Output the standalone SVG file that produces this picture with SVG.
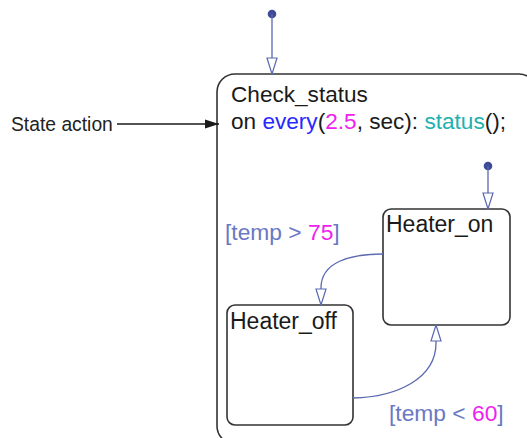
<svg xmlns="http://www.w3.org/2000/svg" width="527" height="438" viewBox="0 0 527 438">
<style>
  text { font-family: "Liberation Sans", Arial, sans-serif; }
  .state { fill: #ffffff; stroke: #333333; stroke-width: 1.6; }
  .name { font-size: 23px; fill: #1a1a1a; }
  .outer { font-size: 22.6px; fill: #1a1a1a; }
  .trans { fill: none; stroke: #5a68b0; stroke-width: 1.3; }
  .dot { fill: #3f4a96; }
  .label { font-size: 22.8px; fill: #6a78c4; }
  .num { fill: #f020f0; }
  .kw { fill: #2828ff; }
  .fn { fill: #22b0b0; }
</style>
<defs>
  <marker id="hollow" viewBox="0 -6 18 12" refX="17" refY="0" markerWidth="18" markerHeight="12" orient="auto" markerUnits="userSpaceOnUse">
    <path d="M1,-5 L9,-2.5 L17,0 L9,2.5 L1,5 Z" fill="#ffffff" stroke="#5a68b0" stroke-width="1.2"/>
  </marker>
  <marker id="solid" viewBox="0 -5 14 10" refX="14" refY="0" markerWidth="14" markerHeight="10" orient="auto" markerUnits="userSpaceOnUse">
    <path d="M0,-4.5 L14,0 L0,4.5 Z" fill="#1a1a1a"/>
  </marker>
</defs>

<g id="Check_status">
  <rect class="state" x="217" y="74" width="320" height="370" rx="18" ry="18"/>
  <text class="outer" x="231" y="102">Check_status</text>
  <text class="outer" x="231" y="129">on <tspan class="kw">every</tspan>(<tspan class="num">2.5</tspan>, sec): <tspan class="fn">status</tspan>();</text>
</g>

<g id="Heater_on">
  <rect class="state" x="383" y="209" width="127" height="116" rx="8" ry="8"/>
  <text class="name" x="386" y="232">Heater_on</text>
</g>

<g id="Heater_off">
  <rect class="state" x="227" y="305" width="126" height="120" rx="8" ry="8"/>
  <text class="name" x="230" y="329">Heater_off</text>
</g>

<g id="State_action_note">
  <text x="11" y="131" font-size="19.3" fill="#222222">State action</text>
</g>

<g id="connectors">
  <circle class="dot" cx="272" cy="14" r="4.3"/>
  <path class="trans" d="M272,14 L272,74" marker-end="url(#hollow)"/>
  <circle class="dot" cx="488" cy="166" r="4.3"/>
  <path class="trans" d="M488,166 L488,209" marker-end="url(#hollow)"/>
  <path class="trans" d="M383,254 C350,254 321,262 321,288 L321,305" marker-end="url(#hollow)"/>
  <path class="trans" d="M353,398 C398,397 436,378 436,343 L436,325" marker-end="url(#hollow)"/>
  <text class="label" x="225" y="240">[temp &gt; <tspan class="num">75</tspan>]</text>
  <text class="label" x="389" y="421">[temp &lt; <tspan class="num">60</tspan>]</text>
  <path d="M117,124 L219,124" stroke="#1a1a1a" stroke-width="1.6" fill="none" marker-end="url(#solid)"/>
</g>
</svg>
